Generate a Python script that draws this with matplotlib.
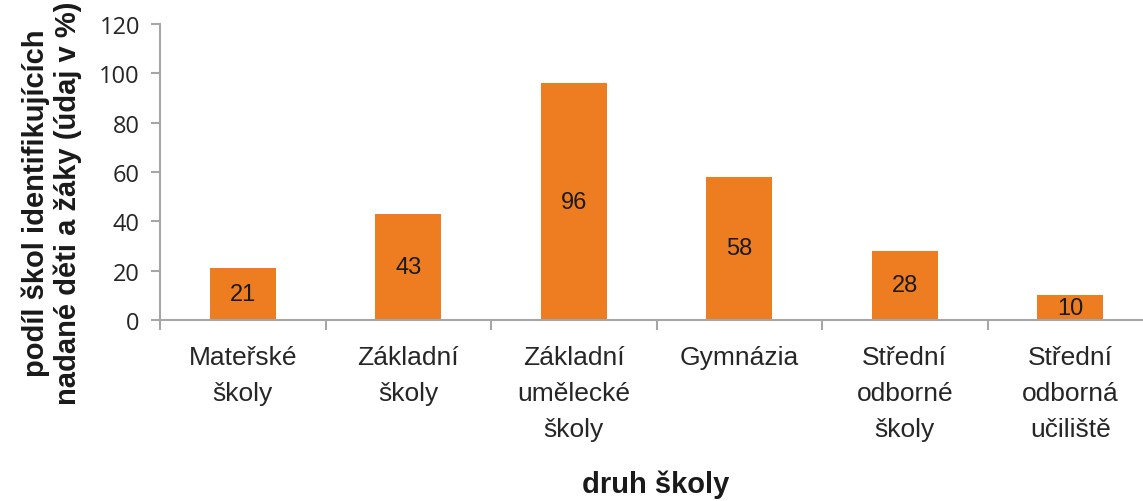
import matplotlib.pyplot as plt
import numpy as np

plt.rcParams['font.family'] = ['Liberation Sans', 'DejaVu Sans']

categories = ['Mateřské\nškoly', 'Základní\nškoly', 'Základní\numělecké\nškoly',
              'Gymnázia', 'Střední\nodborné\nškoly', 'Střední\nodborná\nučiliště']
values = [21, 43, 96, 58, 28, 10]

W, H = 1143, 502
fig = plt.figure(figsize=(W / 100, H / 100), dpi=100)
ax = fig.add_axes([160 / W, 1 - 321 / H, 993 / W, 296 / H])

x = np.arange(len(categories))
bars = ax.bar(x, values, width=0.4, color='#ee7d22')
for b, v in zip(bars, values):
    ax.text(b.get_x() + b.get_width() / 2, v / 2, str(v), ha='center', va='center',
            fontsize=17, color='#1a1a1a')

ax.set_xlim(-0.5, len(categories) - 0.5)
ax.set_ylim(0, 120)
ax.set_yticks(range(0, 121, 20))
ax.set_xticks(x)
ax.set_xticklabels(categories, fontsize=19, color='#262626', linespacing=1.63)
ax.set_xticks(np.arange(-0.5, len(categories), 1), minor=True)
ax.tick_params(axis='x', which='major', length=0, pad=18)
ax.tick_params(axis='x', which='minor', length=7, color='#a6a6a6', width=1.5)
ax.tick_params(axis='y', length=6.5, color='#a6a6a6', width=1.5, labelsize=17,
               labelcolor='#262626', pad=8)
for lab in ax.get_yticklabels():
    lab.set_family(['Open Sans', 'DejaVu Sans'])

for s in ['top', 'right']:
    ax.spines[s].set_visible(False)
for s in ['left', 'bottom']:
    ax.spines[s].set_color('#a6a6a6')
    ax.spines[s].set_linewidth(1.5)

fig.text(656 / W, 1 - 493 / H, 'druh školy', fontsize=21, fontweight='bold',
         color='#1a1a1a', ha='center', va='baseline')
fig.text(52 / W, 1 - 203 / H, 'podíl škol identifikujících\nnadané děti a žáky (údaj v %)',
         fontsize=21, fontweight='bold', color='#1a1a1a', rotation=90,
         ha='center', va='center', multialignment='center', linespacing=1.15)

fig.savefig('out.png', dpi=100)
